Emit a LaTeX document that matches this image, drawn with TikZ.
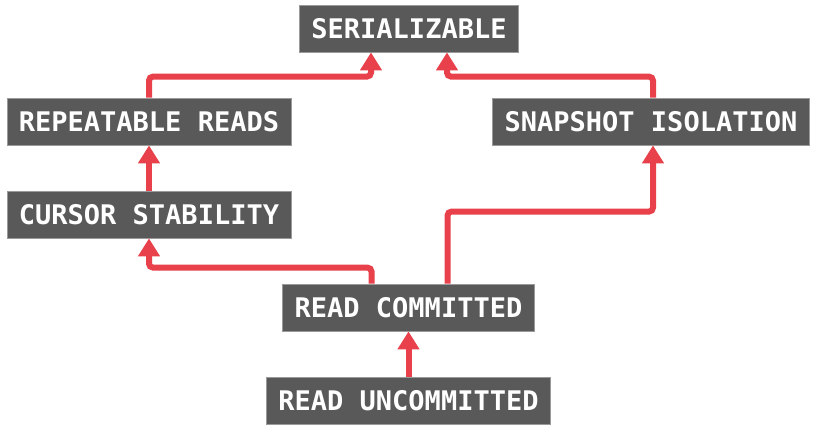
\documentclass[tikz,border=0pt]{standalone}
\usepackage{fontspec}
\setmonofont{DejaVu Sans Mono}
\usetikzlibrary{arrows.meta,calc}
\definecolor{boxgray}{HTML}{595959}
\definecolor{boxedge}{HTML}{9A9A9A}
\definecolor{linkred}{HTML}{E8414B}
\tikzset{level/.style={rectangle,draw=boxedge,line width=0.8pt,fill=boxgray,text=white,inner xsep=12pt,inner ysep=0pt,minimum height=47pt,font=\fontsize{27}{27}\selectfont\ttfamily\bfseries},
  link/.style={draw=linkred,line width=6pt,rounded corners=4pt,-{Triangle[width=21pt,length=18pt]}}}

\begin{document}
\begin{tikzpicture}[x=1pt,y=-1pt]
  \useasboundingbox (0,0) rectangle (832,439);
  \node[level] (ser) at (409,28.5) {SERIALIZABLE};
  \node[level] (rr) at (149,121.5) {REPEATABLE READS};
  \node[level] (si) at (651,121.5) {SNAPSHOT ISOLATION};
  \node[level] (cs) at (149,214.5) {CURSOR STABILITY};
  \node[level] (rc) at (408.5,307.5) {READ COMMITTED};
  \node[level] (ru) at (408.5,400.5) {READ UNCOMMITTED};
  \draw[link] (rr.north) -- ++(0,-21) -| ([xshift=-38pt]ser.south);
  \draw[link] ([xshift=2pt]si.north) -- ++(0,-21) -| ([xshift=38pt]ser.south);
  \draw[link] (cs.north) -- (rr.south);
  \draw[link] ([xshift=-37pt]rc.north) -- ++(0,-16) -| (cs.south);
  \draw[link] ([xshift=39pt]rc.north) -- ++(0,-72) -| ([xshift=2pt]si.south);
  \draw[link] (ru.north) -- (rc.south);
\end{tikzpicture}
\end{document}
